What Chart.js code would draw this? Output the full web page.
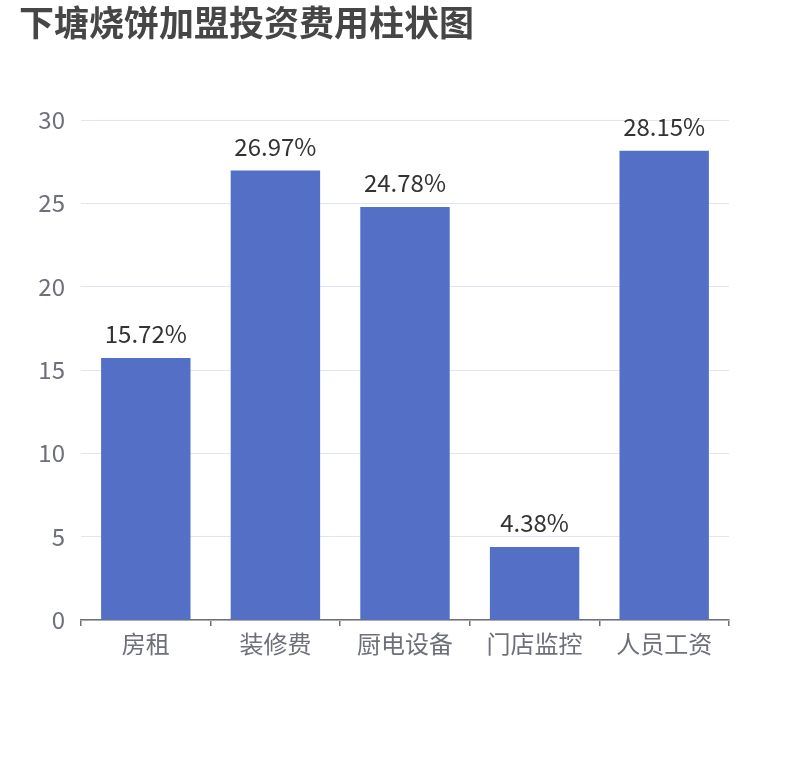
<!DOCTYPE html>
<html><head><meta charset="utf-8">
<script src="https://cdn.jsdelivr.net/npm/chart.js@4.4.1/dist/chart.umd.min.js"></script>
<style>html,body{margin:0;padding:0;background:#fff;}canvas{display:block;}</style>
</head><body>
<canvas id="c" width="810" height="760"></canvas>
<script>
const titleText = '下塘烧饼加盟投资费用柱状图';
const categories = ['房租', '装修费', '厨电设备', '门店监控', '人员工资'];
const values = [15.72, 26.97, 24.78, 4.38, 28.15];
const yTicks = [0, 5, 10, 15, 20, 25, 30];

const FONT = '"Noto Sans CJK SC", "Noto Sans", sans-serif';

const titlePlugin = {
  id: 'titleDraw',
  afterDraw(chart) {
    const ctx = chart.ctx;
    ctx.save();
    ctx.font = 'bold 35px ' + FONT;
    ctx.fillStyle = '#464646';
    ctx.textBaseline = 'top';
    ctx.textAlign = 'left';
    ctx.fillText(titleText, 19, 5);
    ctx.restore();
  }
};
const labelPlugin = {
  id: 'valueLabels',
  afterDatasetsDraw(chart) {
    const ctx = chart.ctx;
    const meta = chart.getDatasetMeta(0);
    ctx.save();
    ctx.font = '24px ' + FONT;
    ctx.fillStyle = '#333333';
    ctx.textAlign = 'center';
    ctx.textBaseline = 'alphabetic';
    meta.data.forEach((bar, i) => {
      ctx.fillText(values[i].toFixed(2) + '%', bar.x, bar.y - 15);
    });
    ctx.restore();
  }
};

new Chart(document.getElementById('c'), {
  type: 'bar',
  data: {
    labels: categories,
    datasets: [{
      data: values,
      backgroundColor: '#5470C6',
      borderWidth: 0,
      categoryPercentage: 1,
      barPercentage: 0.69
    }]
  },
  options: {
    responsive: false,
    animation: false,
    layout: { padding: { top: 120, right: 81, left: 0, bottom: 0 } },
    plugins: { legend: { display: false }, tooltip: { enabled: false } },
    scales: {
      x: {
        offset: true,
        grid: { offset: true, drawOnChartArea: false, drawTicks: true, tickLength: 6, color: '#6E7079', lineWidth: 1.5 },
        border: { display: true, color: '#6E7079', width: 1.5 },
        ticks: { color: '#6E7079', font: { family: FONT, size: 24 }, padding: 3 },
        afterFit(s) { s.height = 140; }
      },
      y: {
        min: 0, max: 30,
        afterBuildTicks(s) { s.ticks = yTicks.map(v => ({ value: v })); },
        grid: { color: '#E0E6F1', drawTicks: false, lineWidth: 1 },
        border: { display: false },
        ticks: { color: '#6E7079', font: { family: FONT, size: 24 }, padding: 16 },
        afterFit(s) { s.width = 81; }
      }
    }
  },
  plugins: [titlePlugin, labelPlugin]
});
</script>
</body></html>
